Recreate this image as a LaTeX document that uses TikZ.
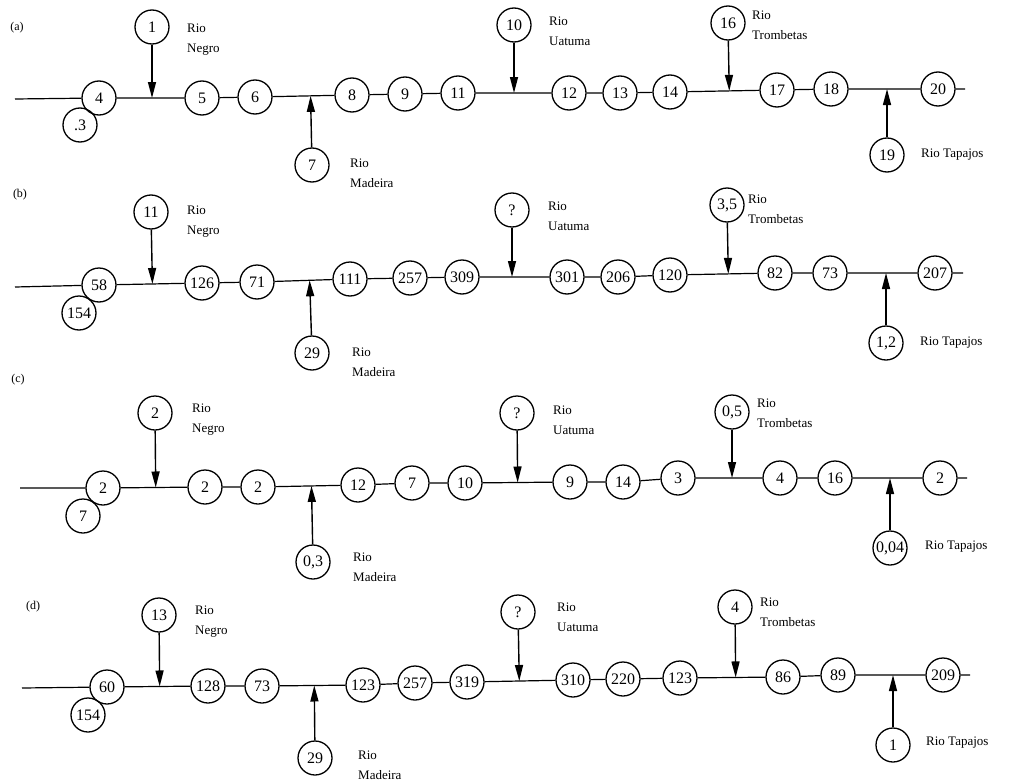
\documentclass[tikz,border=0pt]{standalone}
\usepackage{fontspec}
\setmainfont{Liberation Serif}
\usetikzlibrary{calc,arrows.meta}
\tikzset{
  cn/.style={circle,draw,line width=1.3pt,minimum size=34pt,inner sep=0pt,font=\fontsize{16}{16}\selectfont},
  lbl/.style={anchor=west,align=left,inner sep=0pt,font=\fontsize{13}{20}\selectfont},
  plbl/.style={inner sep=0pt,font=\fontsize{12}{14}\selectfont},
  mainline/.style={line width=1.2pt},
  arr/.style={line width=1.4pt,-{Triangle[length=16pt,width=8pt]}}
}
\begin{document}
\begin{tikzpicture}[x=1pt,y=-1pt]
\useasboundingbox (0,0) rectangle (1009,784);
% ---------------- (a)
\node[plbl] (la) at (17,28) {(a)};
\coordinate (as) at (15,99);
\node[cn] (a4) at (99,98) {4};
\node[cn] (a3) at (80,125) {.3};
\node[cn] (a1) at (152,27) {1};
\node[cn] (a5) at (202,98) {5};
\node[cn] (a6) at (255,97) {6};
\node[cn] (a7) at (312,165) {7};
\node[cn] (a8) at (352,95) {8};
\node[cn] (a9) at (405,94) {9};
\node[cn] (a11) at (458,93) {11};
\node[cn] (a10) at (514,25) {10};
\node[cn] (a12) at (569,93) {12};
\node[cn] (a13) at (620,93) {13};
\node[cn] (a14) at (670,92) {14};
\node[cn] (a16) at (728,23) {16};
\node[cn] (a17) at (777,90) {17};
\node[cn] (a18) at (831,89) {18};
\node[cn] (a19) at (887,155) {19};
\node[cn] (a20) at (938,89) {20};
\coordinate (ae) at (965,89);
\draw[mainline] (as) -- (a4) -- (a5) -- (a6) -- (a8) -- (a9) -- (a11) -- (a12) -- (a13) -- (a14) -- (a17) -- (a18) -- (a20) -- (ae);
\draw[arr] (a1) -- ($(a4)!(a1)!(a5)$);
\draw[arr] (a7) -- ($(a6)!(a7)!(a8)$);
\draw[arr] (a10) -- ($(a11)!(a10)!(a12)$);
\draw[arr] (a16) -- ($(a14)!(a16)!(a17)$);
\draw[arr] (a19) -- ($(a18)!(a19)!(a20)$);
\node[lbl] (aN) at (187,40) {Rio\\Negro};
\node[lbl] (aM) at (350,173) {Rio\\Madeira};
\node[lbl] (aU) at (549,31) {Rio\\Uatuma};
\node[lbl] (aT) at (752,25) {Rio\\Trombetas};
\node[lbl] (aP) at (921,155) {Rio Tapajos};
% ---------------- (b)
\node[plbl] (lb) at (20,195) {(b)};
\coordinate (bs) at (15,287);
\node[cn] (b58) at (99,285) {58};
\node[cn] (b154) at (79,313) {154};
\node[cn] (b11) at (151,212) {11};
\node[cn] (b126) at (202,283) {126};
\node[cn] (b71) at (257,282) {71};
\node[cn] (b29) at (312,353) {29};
\node[cn] (b111) at (350,279) {111};
\node[cn] (b257) at (410,278) {257};
\node[cn] (b309) at (462,277) {309};
\node[cn] (bq) at (512,210) {?};
\node[cn] (b301) at (567,277) {301};
\node[cn] (b206) at (618,277) {206};
\node[cn] (b120) at (670,275) {120};
\node[cn] (b35) at (727,205) {3,5};
\node[cn] (b82) at (775,273) {82};
\node[cn] (b73) at (830,273) {73};
\node[cn] (b12) at (886,343) {1,2};
\node[cn] (b207) at (935,273) {207};
\coordinate (be) at (963,273);
\draw[mainline] (bs) -- (b58) -- (b126) -- (b71) -- (b111) -- (b257) -- (b309) -- (b301) -- (b206) -- (b120) -- (b82) -- (b73) -- (b207) -- (be);
\draw[arr] (b11) -- ($(b58)!(b11)!(b126)$);
\draw[arr] (b29) -- ($(b71)!(b29)!(b111)$);
\draw[arr] (bq) -- ($(b309)!(bq)!(b301)$);
\draw[arr] (b35) -- ($(b120)!(b35)!(b82)$);
\draw[arr] (b12) -- ($(b73)!(b12)!(b207)$);
\node[lbl] (bN) at (187,222) {Rio\\Negro};
\node[lbl] (bM) at (352,362) {Rio\\Madeira};
\node[lbl] (bU) at (548,216) {Rio\\Uatuma};
\node[lbl] (bT) at (748,209) {Rio\\Trombetas};
\node[lbl] (bP) at (920,343) {Rio Tapajos};
% ---------------- (c)
\node[plbl] (lc) at (18,380) {(c)};
\coordinate (cs) at (20,488);
\node[cn] (c2a) at (103,488) {2};
\node[cn] (c7) at (83,516) {7};
\node[cn] (cN2) at (155,413) {2};
\node[cn] (c2b) at (205,487) {2};
\node[cn] (c2c) at (258,487) {2};
\node[cn] (c03) at (313,562) {0,3};
\node[cn] (c12) at (358,485) {12};
\node[cn] (c7b) at (412,483) {7};
\node[cn] (c10) at (465,483) {10};
\node[cn] (cq) at (517,413) {?};
\node[cn] (c9) at (570,482) {9};
\node[cn] (c14) at (623,482) {14};
\node[cn] (c3) at (678,478) {3};
\node[cn] (c05) at (732,412) {0,5};
\node[cn] (c4) at (780,478) {4};
\node[cn] (c16) at (835,478) {16};
\node[cn] (c004) at (890,548) {0,04};
\node[cn] (c2d) at (940,478) {2};
\coordinate (ce) at (967,478);
\draw[mainline] (cs) -- (c2a) -- (c2b) -- (c2c) -- (c12) -- (c7b) -- (c10) -- (c9) -- (c14) -- (c3) -- (c4) -- (c16) -- (c2d) -- (ce);
\draw[arr] (cN2) -- ($(c2a)!(cN2)!(c2b)$);
\draw[arr] (c03) -- ($(c2c)!(c03)!(c12)$);
\draw[arr] (cq) -- ($(c10)!(cq)!(c9)$);
\draw[arr] (c05) -- ($(c3)!(c05)!(c4)$);
\draw[arr] (c004) -- ($(c16)!(c004)!(c2d)$);
\node[lbl] (cNl) at (192,420) {Rio\\Negro};
\node[lbl] (cM) at (353,567) {Rio\\Madeira};
\node[lbl] (cU) at (553,420) {Rio\\Uatuma};
\node[lbl] (cT) at (757,413) {Rio\\Trombetas};
\node[lbl] (cP) at (925,547) {Rio Tapajos};
% ---------------- (d)
\node[plbl] (ld) at (33,607) {(d)};
\coordinate (ds) at (22,688);
\node[cn] (d60) at (107,687) {60};
\node[cn] (d154) at (88,715) {154};
\node[cn] (d13) at (159,615) {13};
\node[cn] (d128) at (208,686) {128};
\node[cn] (d73) at (262,686) {73};
\node[cn] (d29) at (315,758) {29};
\node[cn] (d123) at (363,685) {123};
\node[cn] (d257) at (415,683) {257};
\node[cn] (d319) at (467,682) {319};
\node[cn] (dq) at (518,612) {?};
\node[cn] (d310) at (573,680) {310};
\node[cn] (d220) at (623,679) {220};
\node[cn] (d123b) at (680,678) {123};
\node[cn] (d4) at (735,607) {4};
\node[cn] (d86) at (783,677) {86};
\node[cn] (d89) at (838,675) {89};
\node[cn] (d1) at (893,745) {1};
\node[cn] (d209) at (943,675) {209};
\coordinate (de) at (970,675);
\draw[mainline] (ds) -- (d60) -- (d128) -- (d73) -- (d123) -- (d257) -- (d319) -- (d310) -- (d220) -- (d123b) -- (d86) -- (d89) -- (d209) -- (de);
\draw[arr] (d13) -- ($(d60)!(d13)!(d128)$);
\draw[arr] (d29) -- ($(d73)!(d29)!(d123)$);
\draw[arr] (dq) -- ($(d319)!(dq)!(d310)$);
\draw[arr] (d4) -- ($(d123b)!(d4)!(d86)$);
\draw[arr] (d1) -- ($(d89)!(d1)!(d209)$);
\node[lbl] (dN) at (195,622) {Rio\\Negro};
\node[lbl] (dM) at (358,765) {Rio\\Madeira};
\node[lbl] (dU) at (557,617) {Rio\\Uatuma};
\node[lbl] (dT) at (760,612) {Rio\\Trombetas};
\node[lbl] (dP) at (926,743) {Rio Tapajos};
\end{tikzpicture}
\end{document}
